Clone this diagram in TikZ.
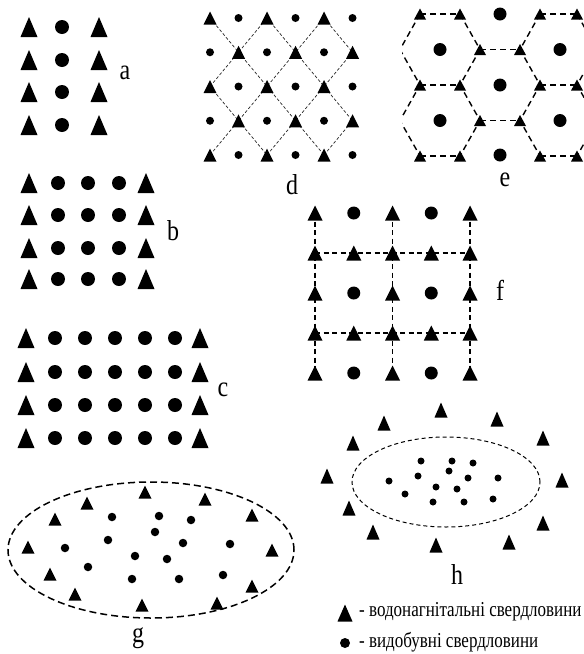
\documentclass[tikz,border=0pt]{standalone}
\usepackage{fontspec}
\setmainfont{Liberation Serif}
\usetikzlibrary{shapes.geometric, positioning}

\newcommand{\tallsc}[2]{\scalebox{1}[#1]{#2}}

\tikzset{
  pics/inj/.style args={#1/#2}{code={%
    \fill (-#1/2,#2/2) -- (#1/2,#2/2) -- (0,-#2/2) -- cycle;}},
  prod/.style = {circle, fill=black, inner sep=0pt, minimum size=#1},
  prod/.default = 14pt,
  lbl/.style  = {font=\fontsize{24}{24}\selectfont, inner sep=0pt},
  legtxt/.style = {font=\fontsize{17}{17}\selectfont, anchor=west, inner sep=0pt},
  dlink/.style  = {dash pattern=on 3pt off 2pt, line width=0.7pt, black!85},
  hexln/.style  = {dash pattern=on 6pt off 4pt, line width=1.4pt},
  gridln/.style = {dash pattern=on 5pt off 3.5pt, line width=1.2pt},
  zone/.style   = {ellipse, draw, inner sep=0pt, minimum width=#1},
}

\begin{document}
\begin{tikzpicture}[x=1pt, y=-1pt]
\useasboundingbox (0,0) rectangle (584,654);

% ---- a: one row of producers between two injector rows ---------------------
\foreach \y [count=\r] in {27,60,92,125}{
  \pic at (29,\y) {inj=17/20};
  \node[prod] (a-\r) at (62,\y) {};
  \pic at (99,\y) {inj=17/20};
}
\node[lbl] (la) at (125,73) {\tallsc{1.2}{a}};

% ---- b: three rows ----------------------------------------------------------
\foreach \y [count=\r] in {183,215,248,279}{
  \pic at (29,\y) {inj=17/20};
  \foreach \x [count=\k] in {58,88,119}
    \node[prod] (b-\r-\k) at (\x,\y) {};
  \pic at (146,\y) {inj=17/20};
}
\node[lbl] (lb) at (173,231) {\tallsc{1.2}{b}};

% ---- c: five rows -----------------------------------------------------------
\foreach \y [count=\r] in {338,372,405,438}{
  \pic at (26,\y) {inj=17/20};
  \foreach \x [count=\k] in {55,85,115,145,175}
    \node[prod] (c-\r-\k) at (\x,\y) {};
  \pic at (200,\y) {inj=17/20};
}
\node[lbl] (lc) at (223,390) {\tallsc{1.2}{c}};

% ---- d: diamond pattern -----------------------------------------------------
\foreach \i in {0,...,4}
  \foreach \j in {0,...,5}
    \coordinate (d\i\j) at (210+28.5*\j,18+34.25*\i);
\draw[dlink] (d00) -- (d44) (d02) -- (d35) (d04) -- (d15) (d20) -- (d42)
             (d20) -- (d02) (d40) -- (d04) (d42) -- (d15) (d44) -- (d35);
\foreach \i in {0,...,4}
  \foreach \j in {0,...,5}{
    \pgfmathtruncatemacro\odd{mod(\i+\j,2)}
    \ifnum\odd=0 \pic at (d\i\j) {inj=13/13};
    \else \node[prod=8pt] (dp\i\j) at (d\i\j) {};\fi
  }
\node[lbl] (ld) at (292,185) {\tallsc{1.2}{d}};

% ---- e: hexagonal pattern ---------------------------------------------------
\begin{scope}
  \clip (402,5) rectangle (584,166);
  \foreach \x/\s in {420/-1,460/1,540/-1,577/1}
    \draw[hexln] (\x,14) -- (\x+20*\s,49.5) -- (\x,85) -- (\x+20*\s,120.5) -- (\x,156);
  \foreach \xa/\xb/\y in {420/460/14,540/577/14,480/520/49.5,420/460/85,
                          540/577/85,480/520/120.5,420/460/156,540/577/156}
    \draw[hexln] (\xa,\y) -- (\xb,\y);
\end{scope}
\foreach \x/\y in {420/14,460/14,540/14,577/14,480/49.5,520/49.5,420/85,460/85,
                   540/85,577/85,480/120.5,520/120.5,420/156,460/156,540/156,577/156}
  \pic at (\x,\y) {inj=12/11};
\foreach \x/\y [count=\k] in {500/14,440/49.5,560/49.5,500/85,440/120.5,560/120.5,500/155}
  \node[prod=13pt] (e-\k) at (\x,\y) {};
\node[lbl] (le) at (505,180) {\tallsc{1.2}{e}};

% ---- f: square pattern ------------------------------------------------------
\foreach \i in {0,...,4}
  \foreach \j in {0,...,4}
    \coordinate (f\i\j) at (315+38.75*\j,213+40*\i);
\draw[gridln] (f00) -- (f40) (f02) -- (f42) (f04) -- (f44)
              (f10) -- (f14) (f30) -- (f34);
\foreach \i in {0,...,4}
  \foreach \j in {0,...,4}{
    \pgfmathtruncatemacro\odd{int(mod(\j,2)*(1-mod(\i,2)))}
    \ifnum\odd=0 \pic at (f\i\j) {inj=15/15};
    \else \node[prod=13pt] (fp\i\j) at (f\i\j) {};\fi
  }
\node[lbl] (lf) at (500,290) {\tallsc{1.2}{f}};

% ---- g: irregular field inside the contour ----------------------------------
\node[zone=286pt, minimum height=136pt, dash pattern=on 7pt off 4pt,
      line width=1.5pt] (gzone) at (151,550) {};
\foreach \x/\y in {145/492,87/503,205/499,55/519,252/515,28/547,272/550,
                   50/574,252/586,75/594,217/603,142/605}
  \pic at (\x,\y) {inj=13/13};
\foreach \x/\y [count=\k] in {112/517,159/516,191/520,155/532,108/540,65/548,
                              183/543,230/544,135/556,167/559,88/567,223/575,
                              132/579,179/579}
  \node[prod=8.5pt] (g-\k) at (\x,\y) {};
\node[lbl] (lg) at (138,638) {\tallsc{1.2}{g}};

% ---- h: injectors outside the contour ---------------------------------------
\node[zone=188pt, minimum height=90pt, dash pattern=on 4pt off 3pt,
      line width=1pt] (hzone) at (446,482) {};
\foreach \x/\y in {441/410,497/419,384/423,543/438,353/443,327/476,562/480,
                   349/508,543/523,373/532,509/542,436/545}
  \pic at (\x,\y) {inj=13/15};
\foreach \x/\y [count=\k] in {421/461,452/461,473/463,449/471,418/476,468/478,
                              498/478,389/481,436/487,457/489,405/494,493/499,
                              433/502,464/502}
  \node[prod=7pt] (h-\k) at (\x,\y) {};
\node[lbl] (lh) at (457,575) {\tallsc{1.2}{h}};

% ---- legend -----------------------------------------------------------------
\pic at (345,613) {inj=15/17};
\node[legtxt] (leg1) at (359,612) {\tallsc{1.25}{- водонагнітальні свердловини}};
\node[prod=10pt] (legp) at (345,643) {};
\node[legtxt] (leg2) at (359,642) {\tallsc{1.25}{- видобувні свердловини}};

\end{tikzpicture}
\end{document}
